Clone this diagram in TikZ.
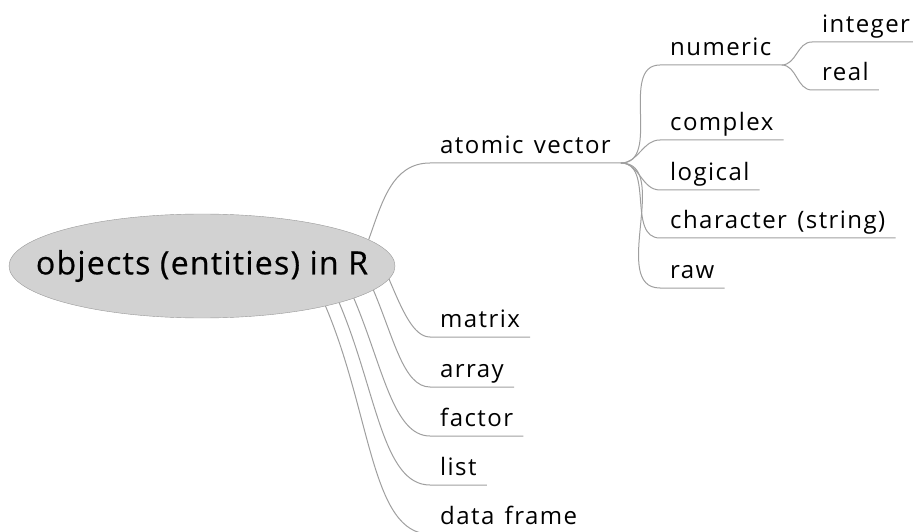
\documentclass[tikz,border=0pt]{standalone}
\usepackage{fontspec}
\setmainfont{Open Sans}[LetterSpace=6, WordSpace=1.35]
\newfontfamily\rootfont{Open Sans}[LetterSpace=4, FakeBold=0.6]
\usetikzlibrary{shapes.geometric}

\begin{document}
\begin{tikzpicture}[x=1pt, y=1pt,
  every node/.style={font=\fontsize{24}{28}\selectfont},
  root/.style={ellipse, draw=gray!80, fill=gray!35, minimum width=386pt,
    minimum height=104pt, inner xsep=-40pt, inner ysep=0pt,
    font=\rootfont\fontsize{32}{38}\selectfont},
  topic/.style={anchor=south west, text height=17pt, text depth=0pt,
    inner xsep=10pt, inner ysep=9pt},
  link/.style={draw=gray!75, line width=1pt}
]
\useasboundingbox (0,0) rectangle (913,531);
\node[root] (obj) at (202,265) {objects (entities) in R};

% first level
\node[topic] (atv) at (430,368) {atomic vector};
\node[topic] (mtx) at (430,194) {matrix};
\node[topic] (arr) at (430,144) {array};
\node[topic] (fac) at (430,95) {factor};
\node[topic] (lst) at (430,46) {list};
\node[topic] (dfr) at (430,-3) {data frame};

% kinds of atomic vector
\node[topic] (num) at (660,466) {numeric};
\node[topic] (cpx) at (660,391) {complex};
\node[topic] (lgc) at (660,341) {logical};
\node[topic] (chr) at (660,293) {character (string)};
\node[topic] (raw) at (660,243) {raw};
\node[topic] (int) at (812,489) {integer};
\node[topic] (rea) at (812,441) {real};

\draw[link] (obj.9) to[out=70,in=180] (atv.south west) -- (atv.south east);
\foreach \n/\a in {mtx/-4, arr/-8, fac/-12, lst/-15, dfr/-18}
  \draw[link] (obj.\a) to[out=-67,in=180,out looseness=1.2,in looseness=0.6]
    (\n.south west) -- (\n.south east);
\foreach \n in {num, cpx, lgc, chr, raw}
  \draw[link] (atv.south east) to[out=0,in=180] (\n.south west) -- (\n.south east);
\foreach \n in {int, rea}
  \draw[link] (num.south east) to[out=0,in=180] (\n.south west) -- (\n.south east);
\end{tikzpicture}
\end{document}
